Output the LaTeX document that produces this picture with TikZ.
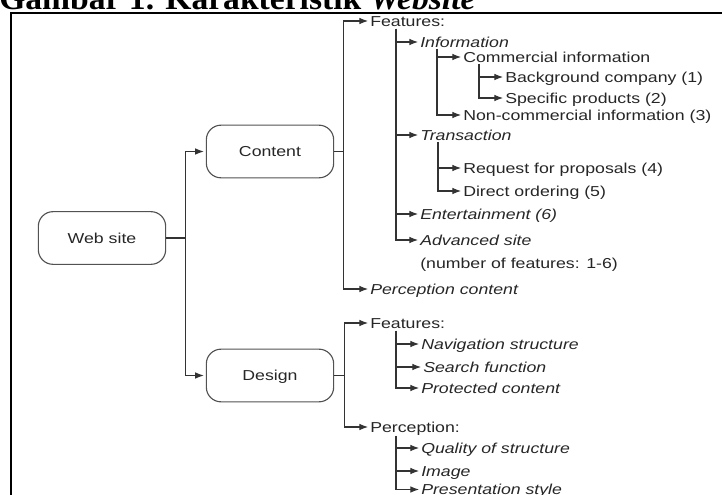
\documentclass[tikz,border=0pt]{standalone}
\usepackage{fontspec}
\usetikzlibrary{arrows.meta}
\newfontfamily\dgfont[FakeStretch=1.23]{Liberation Sans}
\newfontfamily\ttlfont[FakeStretch=1.05]{Liberation Serif}
\definecolor{txt}{HTML}{262626}
\definecolor{lncol}{HTML}{333333}
\begin{document}
\begin{tikzpicture}[x=0.75pt,y=-0.75pt,
  every node/.style={font=\dgfont\fontsize{10.8pt}{12pt}\selectfont, text=txt},
  box/.style={draw=lncol!85, line width=0.85pt, rounded corners=11pt, minimum width=95.5pt, minimum height=39.5pt, inner sep=0pt, text height=7.8pt, text depth=0pt},
  lbl/.style={anchor=west, inner sep=0pt, text height=7.8pt, text depth=0pt},
  ital/.style={lbl, font=\dgfont\itshape\fontsize{10.8pt}{12pt}\selectfont},
  arr/.style={draw=lncol, line width=0.85pt, -{Latex[length=6.5pt,width=5pt]}, shorten >=1.5pt},
  plain/.style={draw=lncol, line width=0.85pt}
]
\useasboundingbox (0,0) rectangle (722,495);
\clip (0,0) rectangle (722,495);
% frame and title
\draw[line width=1.5pt, black] (11,530) -- (11,12.7) -- (740,12.7);
\node[anchor=base west, inner sep=0pt, font=\ttlfont\bfseries\fontsize{24pt}{26pt}\selectfont, text=black] (title) at (-1,9.5) {Gambar 1. Karakteristik \textit{Website}};

% main boxes
\node[box] (web) at (102,238) {Web site};
\node[box] (content) at (270,151.5) {Content};
\node[box] (design) at (270,375.5) {Design};

\path (web.east) ++(19,0) coordinate (j0);
\draw[plain] (web.east) -- (j0);
\draw[arr] (j0) |- (content.west);
\draw[arr] (j0) |- (design.west);

% content side
\node[lbl] (cf) at (370,21) {Features:};
\node[ital] (pc) at (370,289) {Perception content};
\path (content.east) ++(9,0) coordinate (j1);
\draw[plain] (content.east) -- (j1);
\draw[arr] (j1) |- (cf.west);
\draw[arr] (j1) |- (pc.west);

\node[ital] (info) at (420,42) {Information};
\node[ital] (trans) at (420,135) {Transaction};
\node[ital] (ent) at (420,214) {Entertainment (6)};
\node[ital] (adv) at (420,240) {Advanced site};
\node[lbl] (num) at (420,263) {(number of features: 1-6)};
\coordinate (v1) at (396,29);
\draw[arr] (v1) |- (info.west);
\draw[arr] (v1) |- (trans.west);
\draw[arr] (v1) |- (ent.west);
\draw[arr] (v1) |- (adv.west);

\node[lbl] (comm) at (463,57) {Commercial information};
\node[lbl] (noncomm) at (463,115) {Non-commercial information (3)};
\coordinate (v2) at (437,49);
\draw[arr] (v2) |- (comm.west);
\draw[arr] (v2) |- (noncomm.west);

\node[lbl] (bg) at (505,77) {Background company (1)};
\node[lbl] (spec) at (505,98) {Specific products (2)};
\coordinate (v4) at (479,64);
\draw[arr] (v4) |- (bg.west);
\draw[arr] (v4) |- (spec.west);

\node[lbl] (rfp) at (463,168) {Request for proposals (4)};
\node[lbl] (direct) at (463,191) {Direct ordering (5)};
\coordinate (v3) at (438,142);
\draw[arr] (v3) |- (rfp.west);
\draw[arr] (v3) |- (direct.west);

% design side
\node[lbl] (df) at (370,323) {Features:};
\node[lbl] (dp) at (370,427) {Perception:};
\path (design.east) ++(10,0) coordinate (j2);
\draw[plain] (design.east) -- (j2);
\draw[arr] (j2) |- (df.west);
\draw[arr] (j2) |- (dp.west);

\node[ital] (nav) at (421,344) {Navigation structure};
\node[ital] (search) at (423,367) {Search function};
\node[ital] (prot) at (421,388) {Protected content};
\coordinate (v5) at (396,331);
\draw[arr] (v5) |- (nav.west);
\draw[arr] (v5) |- (search.west);
\draw[arr] (v5) |- (prot.west);

\node[ital] (qual) at (421,448) {Quality of structure};
\node[ital] (img) at (421,471) {Image};
\node[ital] (pres) at (421,489.5) {Presentation style};
\coordinate (v6) at (396,436);
\draw[arr] (v6) |- (qual.west);
\draw[arr] (v6) |- (img.west);
\draw[arr] (v6) |- (pres.west);
\end{tikzpicture}
\end{document}
